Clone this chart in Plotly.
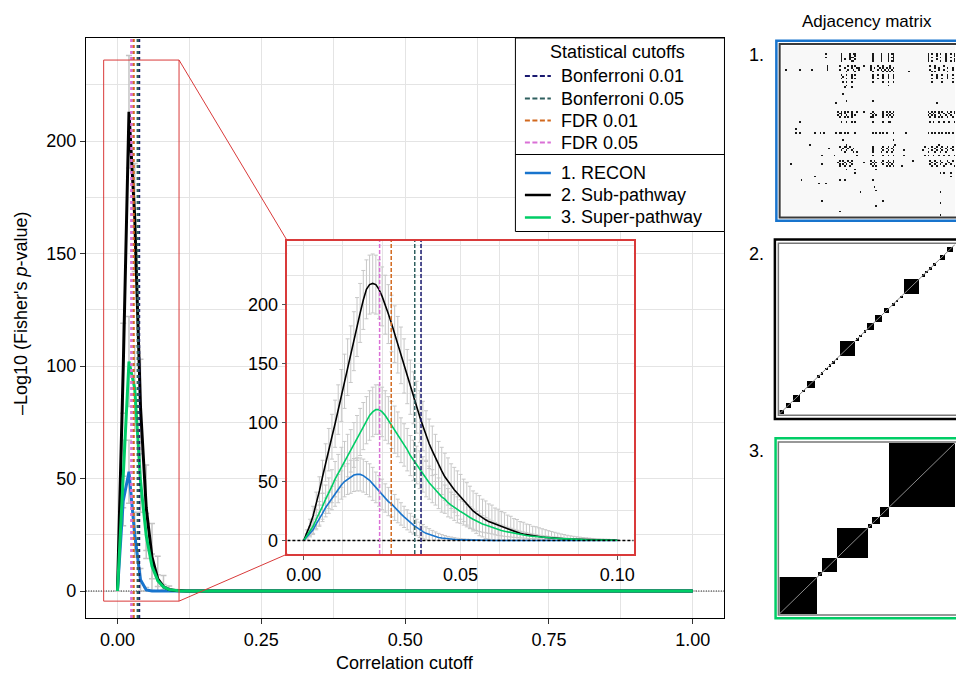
import numpy as np
import plotly.graph_objects as go

W, H = 956, 673
FONT = "Liberation Sans, Arial, Helvetica, sans-serif"

# ---------------- enrichment curves ----------------
# fine grid of correlation cutoffs (0.000 ... 0.100)
cutoff_fine = np.round(np.arange(101) * 0.001, 3)

recon_fine = [
    0, 3, 6, 9, 14, 18, 23, 28, 32, 36,
    40, 44, 47, 50, 52, 54, 55.5, 56, 56, 55,
    53, 51, 48, 45, 42, 39, 36, 33, 31, 28,
    25, 22.5, 20, 17.5, 15, 13, 11, 9, 7.5, 6,
    5, 4, 3.2, 2.5, 2, 1.6, 1.2, 1, 0.8, 0.6,
    0.5, 0.4, 0.3, 0.25, 0.2, 0.15, 0.1, 0.1, 0.1, 0.05,
    0, 0, 0, 0, 0, 0, 0, 0, 0, 0,
    0, 0, 0, 0, 0, 0, 0, 0, 0, 0,
    0, 0, 0, 0, 0, 0, 0, 0, 0, 0,
    0, 0, 0, 0, 0, 0, 0, 0, 0, 0,
    0]
sub_fine = [
    0, 6, 13, 21, 31, 42, 54, 66, 77, 88,
    99, 111, 123, 135, 147, 158, 169, 181, 193, 204,
    213, 217, 218, 217, 213, 207, 200, 192, 184, 175,
    166, 157, 148, 139, 130, 121, 113, 105, 97, 89,
    82, 76, 70, 64, 59, 54, 50, 46, 43, 40,
    37, 34, 31, 28, 25, 23, 21, 19, 17.5, 16,
    15, 13.5, 12.5, 11.5, 10.5, 9.5, 8.5, 7.5, 6.8, 6,
    5.4, 4.9, 4.4, 4, 3.6, 3.2, 2.9, 2.6, 2.3, 2.1,
    1.9, 1.7, 1.5, 1.4, 1.2, 1.1, 1.0, 0.9, 0.8, 0.7,
    0.6, 0.55, 0.5, 0.45, 0.4, 0.35, 0.3, 0.3, 0.25, 0.2,
    0.2]
super_fine = [
    0, 4, 8, 12, 18, 23, 29, 35, 40, 46,
    52, 57, 62, 67, 72, 76, 81, 87, 92, 97,
    102, 106, 109, 111, 111, 109, 106, 102, 98, 94,
    90, 85, 81, 77, 72, 68, 64, 60, 56, 52,
    49, 46, 43, 40, 37, 35, 32, 30, 28, 26,
    24.5, 23, 21, 19.5, 18, 16.5, 15, 14, 13, 12,
    11, 10, 9.2, 8.5, 7.8, 7.2, 6.6, 6.0, 5.5, 5.0,
    4.6, 4.2, 3.8, 3.5, 3.2, 2.9, 2.6, 2.4, 2.2, 2.0,
    1.8, 1.6, 1.5, 1.3, 1.2, 1.1, 1.0, 0.9, 0.8, 0.7,
    0.6, 0.55, 0.5, 0.45, 0.4, 0.35, 0.3, 0.3, 0.25, 0.2,
    0.2]

# spread (error bar half-widths) of each curve
recon_err = [
    0, 2, 3, 4, 5, 6, 7, 8, 9, 10,
    11, 12, 12, 13, 13, 14, 14, 14, 14, 14,
    14, 14, 14, 13, 13, 13, 12, 12, 11, 11,
    10, 9.5, 9, 8.5, 8, 7.5, 7, 6.5, 6, 5.5,
    5, 4.5, 4, 3.5, 3, 2.6, 2.2, 1.9, 1.6, 1.3,
    1.1, 0.9, 0.8, 0.7, 0.6, 0.5, 0.4, 0.3, 0.3, 0.2,
    0.2, 0.1, 0.1, 0.1, 0.1, 0.1, 0.1, 0.1, 0.1, 0.1,
    0, 0, 0, 0, 0, 0, 0, 0, 0, 0,
    0, 0, 0, 0, 0, 0, 0, 0, 0, 0,
    0, 0, 0, 0, 0, 0, 0, 0, 0, 0,
    0]
sub_err = [
    0, 3, 5, 8, 10, 12, 14, 16, 18, 19,
    20, 21, 22, 23, 24, 24, 25, 25, 25, 25,
    25, 25, 25, 25, 25, 25, 25, 25, 24, 24,
    24, 24, 23, 23, 23, 22, 22, 22, 21, 21,
    21, 21, 20, 20, 20, 20, 20, 19, 19, 19,
    19, 18, 18, 18, 17, 17, 17, 16, 16, 15,
    15, 14, 14, 13, 13, 12, 12, 11, 11, 10,
    10, 9, 9, 8, 8, 7.5, 7, 6.5, 6, 5.5,
    5, 4.5, 4, 3.6, 3.2, 2.8, 2.5, 2.2, 2, 1.8,
    1.6, 1.4, 1.2, 1.1, 1, 0.9, 0.8, 0.7, 0.6, 0.5,
    0.5]
super_err = [
    0, 2, 4, 6, 8, 10, 11, 12, 13, 14,
    15, 16, 17, 17, 18, 18, 19, 19, 20, 20,
    20, 21, 21, 21, 21, 21, 21, 20, 20, 20,
    19, 19, 18, 18, 17, 17, 16, 16, 15, 15,
    14, 14, 13, 13, 13, 12, 12, 11, 11, 11,
    10, 10, 9.5, 9, 8.5, 8, 7.5, 7, 6.5, 6,
    5.5, 5.2, 4.9, 4.6, 4.3, 4, 3.7, 3.4, 3.1, 2.8,
    2.6, 2.4, 2.2, 2, 1.8, 1.6, 1.5, 1.4, 1.3, 1.2,
    1.1, 1, 0.9, 0.8, 0.7, 0.6, 0.6, 0.5, 0.5, 0.4,
    0.4, 0.3, 0.3, 0.3, 0.2, 0.2, 0.2, 0.2, 0.1, 0.1,
    0.1]

series_names = ["1. RECON", "2. Sub-pathway", "3. Super-pathway"]
series_fine = [recon_fine, sub_fine, super_fine]
series_err = [recon_err, sub_err, super_err]
series_colors = ["#1874cd", "#000000", "#00cd66"]

# coarse grid over the full cutoff range (0.00 ... 1.00); beyond 0.10 every curve is 0
cutoff_coarse = np.round(np.arange(101) * 0.01, 2)
tail_zero = [0.0] * 90

# statistical significance cutoffs
cutoff_names = ["Bonferroni 0.01", "Bonferroni 0.05", "FDR 0.01", "FDR 0.05"]
cutoff_values = [0.0374, 0.0354, 0.0279, 0.0242]
cutoff_colors = ["#191970", "#2f5f5f", "#d2691e", "#da70d6"]

# axis tick labels
main_xticks = [0, 0.25, 0.5, 0.75, 1.0]
main_yticks = [0, 50, 100, 150, 200]
zoom_xticks = [0, 0.05, 0.1]
zoom_yticks = [0, 50, 100, 150, 200]

# ---------------- adjacency matrices ----------------
# 1. RECON: sparse links, row -> linked columns
recon_links = {
    4: [25, 34, 39, 41, 42, 52, 57, 61, 63, 64, 84, 86, 89, 91, 94, 97, 99],
    5: [34, 39, 42, 52, 57, 61, 64, 84, 89, 94, 99],
    6: [25, 34, 39, 40, 41, 52, 57, 61, 63, 64, 84, 86, 91, 94, 97],
    7: [34, 36, 39, 42, 52, 57, 61, 64, 84, 89, 94, 99],
    8: [34, 40, 41, 52, 57, 61, 63, 64, 84, 86, 91, 94, 97, 99],
    11: [26, 33, 38, 40, 42, 47, 51, 55, 58, 62, 85, 88, 93],
    12: [26, 36, 40, 43, 44, 51, 53, 56, 58, 60, 62, 64, 88, 90, 95, 98],
    13: [2, 10, 17, 26, 33, 38, 41, 44, 51, 55, 57, 59, 61, 63, 85, 90, 93, 98],
    14: [37, 42, 52, 58, 60, 62, 64, 73, 86, 88, 95],
    16: [34, 37, 40, 42, 52, 55, 58, 61, 64, 86, 89, 92, 95, 98],
    17: [35, 40, 52, 58, 61, 64, 89, 95],
    18: [34, 37, 40, 42, 52, 55, 58, 61, 64, 86, 89, 92, 95, 98],
    20: [35, 37, 40, 52, 58, 61, 64, 86, 92, 98],
    22: [37, 61],
    23: [36, 40],
    27: [35],
    31: [37, 52],
    32: [31, 89],
    37: [32, 34, 36, 38, 40, 43, 47, 52, 58, 60, 62, 64, 84, 86, 88, 90, 92, 95, 97, 99],
    38: [33, 34, 36, 40, 51, 53, 58, 61, 63, 85, 87, 90, 93, 96, 99],
    39: [32, 34, 37, 40, 42, 52, 54, 58, 60, 62, 64, 84, 86, 88, 91, 94, 97],
    40: [33, 36, 38, 40, 51, 52, 58, 61, 63, 85, 88, 90, 92, 95, 98],
    43: [10, 34, 37, 40, 42, 52, 58, 61, 62, 85, 87, 90, 93, 96, 99],
    47: [8],
    49: [8, 10, 19, 22, 24, 31, 33, 34, 36, 38, 42, 52, 54, 56, 58, 60, 64, 71,
         84, 86, 88, 90, 92, 94, 96, 98],
    53: [35, 64],
    56: [16, 37, 65, 90],
    57: [33, 36, 37, 39, 52, 58, 61, 64, 82, 86, 89, 92, 95, 98],
    58: [27, 35, 38, 41, 52, 57, 60, 63, 84, 88, 91, 94, 97],
    59: [34, 37, 40, 52, 58, 61, 64, 70, 81, 86, 89, 92, 95, 98],
    60: [36, 41, 43, 52, 57, 60, 63, 84, 88, 91, 94],
    62: [23, 30, 43, 52, 58, 61, 64, 70, 82, 84, 87, 90, 93, 96, 99],
    65: [33, 35, 38, 40, 51, 53, 58, 61, 64, 75, 85, 88, 91, 95, 98],
    66: [32, 36, 39, 47, 52, 54, 57, 60, 62, 64, 86, 89, 92, 96],
    67: [5, 23, 33, 35, 37, 40, 51, 53, 58, 61, 63, 85, 88, 91, 94, 97],
    68: [33, 36, 39, 52, 54, 60, 62, 64, 69, 86, 89, 93, 99],
    70: [37, 42, 54],
    72: [42, 91, 93, 97],
    74: [19, 97],
    76: [11, 33, 36, 52],
    78: [21, 25],
    80: [53],
    82: [54],
    83: [45, 91],
    88: [23, 58],
    89: [91],
    91: [54],
    94: [33],
    96: [91],
}
recon_shape = (97, 100)

# 2. Sub-pathway and 3. Super-pathway: (first node, block size) along the diagonal
n_nodes = 200
subpath_blocks = [(0, 5), (8, 5), (15, 8), (26, 3), (31, 9), (43, 3), (47, 3), (52, 3),
                  (56, 3), (60, 3), (64, 3), (69, 17), (87, 3), (91, 3), (96, 3), (100, 8),
                  (109, 8), (119, 6), (128, 3), (132, 3), (137, 3), (142, 17), (162, 3),
                  (166, 3), (170, 3), (175, 3), (182, 6), (191, 6)]
superpath_blocks = [(0, 43), (44, 5), (49, 16), (65, 36), (101, 4), (105, 9), (114, 11),
                    (125, 75)]


def block_matrix(n, blocks):
    z = np.zeros((n, n), dtype=int)
    for start, size in blocks:
        z[start:start + size, start:start + size] = 1
    return z


recon_z = np.zeros(recon_shape, dtype=int)
for r, cols in recon_links.items():
    recon_z[r, cols] = 1
subpath_z = block_matrix(n_nodes, subpath_blocks)
superpath_z = block_matrix(n_nodes, superpath_blocks)


# ---------------- layout helpers (pixel -> paper) ----------------
def fx(px):
    return px / W


def fy(py):
    return 1 - py / H


MAIN_X = (85, 725)
MAIN_Y = (38, 618)
MAIN_XR = [-0.055, 1.055]
MAIN_YR = [-12, 245.8]
INS_X = (287, 634)
INS_Y = (241, 554)
INS_XR = [-0.0052, 0.1052]
INS_YR = [-11.5, 254]
GRID = "#e4e4e4"
RED = "#d93a3a"


def main_to_paper(x, y):
    px = MAIN_X[0] + (x - MAIN_XR[0]) / (MAIN_XR[1] - MAIN_XR[0]) * (MAIN_X[1] - MAIN_X[0])
    py = MAIN_Y[1] - (y - MAIN_YR[0]) / (MAIN_YR[1] - MAIN_YR[0]) * (MAIN_Y[1] - MAIN_Y[0])
    return fx(px), fy(py)


fig = go.Figure()

# ---------------- main panel: full cutoff range ----------------
# dotted zero reference across the whole panel, underneath the curves
fig.add_trace(go.Scatter(x=MAIN_XR, y=[0, 0], mode="lines", xaxis="x", yaxis="y",
                         line=dict(color="black", width=1, dash="1px,1.5px"),
                         showlegend=False, hoverinfo="skip"))
for vals, err, col in zip(series_fine, series_err, series_colors):
    v = np.concatenate([np.array(vals, float)[::10], tail_zero])
    e = np.concatenate([np.array(err, float)[::10], tail_zero])
    fig.add_trace(go.Scatter(
        x=cutoff_coarse, y=v, mode="markers", marker=dict(size=0, color="rgba(0,0,0,0)"),
        error_y=dict(type="data", array=e, arrayminus=np.minimum(e, v), color="#c4c4c4",
                     thickness=1.5, width=3),
        xaxis="x", yaxis="y", showlegend=False, hoverinfo="skip"))
for vals, col, name in zip(series_fine, series_colors, series_names):
    v = np.concatenate([np.array(vals, float)[::10], tail_zero])
    fig.add_trace(go.Scatter(x=cutoff_coarse, y=v, mode="lines", name=name,
                             line=dict(color=col, width=3), xaxis="x", yaxis="y",
                             showlegend=False, hoverinfo="skip"))

# ---------------- zoomed panel ----------------
for vals, err, col in zip(series_fine, series_err, series_colors):
    v = np.array(vals, float)
    e = np.array(err, float)
    fig.add_trace(go.Scatter(
        x=cutoff_fine, y=v, mode="markers", marker=dict(size=0, color="rgba(0,0,0,0)"),
        error_y=dict(type="data", array=e, arrayminus=np.minimum(e, v), color="#c8c8c8",
                     thickness=1, width=2),
        xaxis="x2", yaxis="y2", showlegend=False, hoverinfo="skip"))
for vals, col, name in zip(series_fine, series_colors, series_names):
    fig.add_trace(go.Scatter(x=cutoff_fine, y=vals, mode="lines", name=name,
                             line=dict(color=col, width=1.6), xaxis="x2", yaxis="y2",
                             showlegend=False, hoverinfo="skip"))

# ---------------- adjacency matrices ----------------
fig.add_trace(go.Heatmap(z=recon_z, zmin=0, zmax=1, showscale=False, hoverinfo="skip",
                         colorscale=[[0, "#f8f8f8"], [1, "#1a1a1a"]],
                         xaxis="x3", yaxis="y3"))
block_scale = [[0, "#ffffff"], [1, "#000000"]]
fig.add_trace(go.Heatmap(z=subpath_z, zmin=0, zmax=1, showscale=False, hoverinfo="skip",
                         colorscale=block_scale, xaxis="x4", yaxis="y4"))
fig.add_trace(go.Heatmap(z=superpath_z, zmin=0, zmax=1, showscale=False, hoverinfo="skip",
                         colorscale=block_scale, xaxis="x5", yaxis="y5"))

tickfont = dict(family=FONT, size=18, color="black")
axis_common = dict(showline=True, mirror=True, ticks="outside", zeroline=False,
                   showgrid=True, gridcolor=GRID, gridwidth=1, tickfont=tickfont)

hidden = dict(visible=False, showgrid=False, zeroline=False)
fig.update_layout(
    width=W, height=H, margin=dict(l=0, r=0, t=0, b=0),
    paper_bgcolor="white", plot_bgcolor="white", showlegend=False, hovermode=False,
    font=dict(family=FONT, size=18, color="black"),
    xaxis=dict(domain=[fx(MAIN_X[0]), fx(MAIN_X[1])], range=MAIN_XR, anchor="y",
               tickvals=main_xticks, tickformat=".2f", linecolor="black", linewidth=1,
               ticklen=5, tickcolor="#333",
               minor=dict(tick0=0, dtick=0.125, showgrid=True, gridcolor=GRID, gridwidth=1),
               **axis_common),
    yaxis=dict(domain=[fy(MAIN_Y[1]), fy(MAIN_Y[0])], range=MAIN_YR, anchor="x",
               tickvals=main_yticks, linecolor="black", linewidth=1, ticklen=5,
               tickcolor="#333",
               minor=dict(tick0=0, dtick=25, showgrid=True, gridcolor=GRID, gridwidth=1),
               **axis_common),
    xaxis2=dict(domain=[fx(INS_X[0]), fx(INS_X[1])], range=INS_XR, anchor="y2",
                tickvals=zoom_xticks, tickformat=".2f",
                linecolor=RED, linewidth=1.5, ticklen=4, tickcolor="#555",
                minor=dict(tick0=0, dtick=0.0125, showgrid=True, gridcolor=GRID, gridwidth=1),
                **axis_common),
    yaxis2=dict(domain=[fy(INS_Y[1]), fy(INS_Y[0])], range=INS_YR, anchor="x2",
                tickvals=zoom_yticks, linecolor=RED, linewidth=1.5, ticklen=4,
                tickcolor="#555",
                minor=dict(tick0=0, dtick=25, showgrid=True, gridcolor=GRID, gridwidth=1),
                **axis_common),
    xaxis3=dict(domain=[fx(782), 1.0], range=[-0.5, 99.5], anchor="y3", **hidden),
    yaxis3=dict(domain=[fy(216), fy(46)], range=[96.5, -0.5], anchor="x3", **hidden),
    xaxis4=dict(domain=[fx(780), 1.0], range=[-0.5, 199.5], anchor="y4", **hidden),
    yaxis4=dict(domain=[fy(414), fy(244.5)], range=[-0.5, 199.5], anchor="x4", **hidden),
    xaxis5=dict(domain=[fx(780), 1.0], range=[-0.5, 199.5], anchor="y5", **hidden),
    yaxis5=dict(domain=[fy(614), fy(443)], range=[-0.5, 199.5], anchor="x5", **hidden),
)

shapes = []
annotations = []

# self-links along the diagonal of the block matrices
for ax in ("4", "5"):
    shapes.append(dict(type="line", xref="x" + ax, yref="y" + ax, x0=-0.5, y0=-0.5,
                       x1=n_nodes - 0.5, y1=n_nodes - 0.5,
                       line=dict(color="#8a8a8a", width=1)))

# dashed zero reference of the zoomed panel
shapes.append(dict(type="line", xref="x2", yref="y2", x0=INS_XR[0], x1=INS_XR[1], y0=0, y1=0,
                   line=dict(color="black", width=1.5, dash="3px,2px")))

# significance cutoffs in both panels
for val, col in zip(cutoff_values, cutoff_colors):
    shapes.append(dict(type="line", xref="x", yref="y", x0=val, x1=val,
                       y0=MAIN_YR[0], y1=MAIN_YR[1],
                       line=dict(color=col, width=2.5, dash="dot")))
    shapes.append(dict(type="line", xref="x2", yref="y2", x0=val, x1=val,
                       y0=INS_YR[0], y1=INS_YR[1],
                       line=dict(color=col, width=1.5, dash="4px,2px")))

# zoom window on the main panel and its connectors to the zoomed panel
zx0, zx1, zy0, zy1 = -0.024, 0.107, -4.5, 236
shapes.append(dict(type="rect", xref="x", yref="y", x0=zx0, x1=zx1, y0=zy0, y1=zy1,
                   line=dict(color=RED, width=1)))
tx, ty = main_to_paper(zx1, zy1)
bx, by = main_to_paper(zx1, zy0)
shapes.append(dict(type="line", xref="paper", yref="paper", x0=tx, y0=ty,
                   x1=fx(INS_X[0]), y1=fy(INS_Y[0]), line=dict(color=RED, width=1)))
shapes.append(dict(type="line", xref="paper", yref="paper", x0=bx, y0=by,
                   x1=fx(INS_X[0]), y1=fy(INS_Y[1]), line=dict(color=RED, width=1)))

# legend box
LX0, LX1, LY0, LY1 = 515.5, 725, 38, 231.5
shapes.append(dict(type="rect", xref="paper", yref="paper", x0=fx(LX0), x1=fx(LX1),
                   y0=fy(LY1), y1=fy(LY0), line=dict(color="black", width=1),
                   fillcolor="white"))
shapes.append(dict(type="line", xref="paper", yref="paper", x0=fx(LX0), x1=fx(LX1),
                   y0=fy(154.5), y1=fy(154.5), line=dict(color="black", width=1)))
annotations.append(dict(text="Statistical cutoffs", xref="paper", yref="paper",
                        x=fx(618), y=fy(52), showarrow=False, xanchor="center",
                        yanchor="middle", font=dict(size=18)))
row_y = [76, 98.5, 120.5, 142.5]
for name, col, yy in zip(cutoff_names, cutoff_colors, row_y):
    shapes.append(dict(type="line", xref="paper", yref="paper", x0=fx(525), x1=fx(551),
                       y0=fy(yy), y1=fy(yy), line=dict(color=col, width=2, dash="5px,2.5px")))
    annotations.append(dict(text=name, xref="paper", yref="paper", x=fx(559), y=fy(yy),
                            showarrow=False, xanchor="left", yanchor="middle",
                            font=dict(size=18)))
row_y2 = [173, 195, 217.5]
for name, col, yy in zip(series_names, series_colors, row_y2):
    shapes.append(dict(type="line", xref="paper", yref="paper", x0=fx(525), x1=fx(551),
                       y0=fy(yy), y1=fy(yy), line=dict(color=col, width=2.5)))
    annotations.append(dict(text=name, xref="paper", yref="paper", x=fx(559), y=fy(yy),
                            showarrow=False, xanchor="left", yanchor="middle",
                            font=dict(size=18)))

# adjacency matrix frames
frames = [
    ((777, 40.8, 220.8), series_colors[0], 2.5, (780.3, 44, 217.5), "#3a3a3a", 2),
    ((775.5, 239.5, 419), "#000000", 2.5, (779, 243.3, 415.3), "#777777", 1.5),
    ((776.2, 438.3, 618.3), series_colors[2], 2.5, (779, 442, 615), "#777777", 1.5),
]
for (ox, oy0, oy1), ocol, ow, (ix, iy0, iy1), icol, iw in frames:
    shapes.append(dict(type="rect", xref="paper", yref="paper", x0=fx(ox), x1=1.03,
                       y0=fy(oy1), y1=fy(oy0), line=dict(color=ocol, width=ow)))
    shapes.append(dict(type="rect", xref="paper", yref="paper", x0=fx(ix), x1=1.03,
                       y0=fy(iy1), y1=fy(iy0), line=dict(color=icol, width=iw)))

for label, yy in zip(["1.", "2.", "3."], [55, 254, 451]):
    annotations.append(dict(text=label, xref="paper", yref="paper", x=fx(757), y=fy(yy),
                            showarrow=False, xanchor="center", yanchor="middle",
                            font=dict(size=18)))
annotations.append(dict(text="Adjacency matrix", xref="paper", yref="paper", x=fx(868),
                        y=fy(22), showarrow=False, xanchor="center", yanchor="middle",
                        font=dict(size=17)))

# axis titles
annotations.append(dict(text="Correlation cutoff", xref="paper", yref="paper", x=fx(405),
                        y=fy(663), showarrow=False, xanchor="center", yanchor="middle",
                        font=dict(size=18)))
annotations.append(dict(text="\u2013Log10 (Fisher's <i>p</i>-value)", xref="paper",
                        yref="paper", x=fx(20), y=fy(313), showarrow=False, textangle=-90,
                        xanchor="center", yanchor="middle", font=dict(size=18)))

fig.update_layout(shapes=shapes, annotations=annotations)
fig.write_html("out.html", config={"displayModeBar": False})
